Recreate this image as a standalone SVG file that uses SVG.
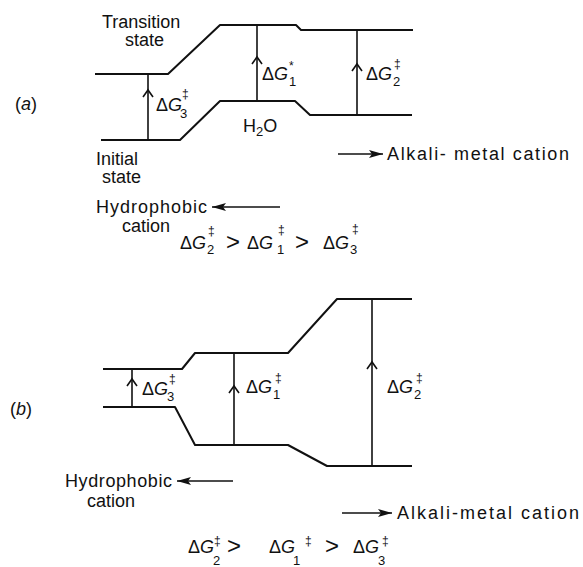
<svg xmlns="http://www.w3.org/2000/svg" xmlns:xlink="http://www.w3.org/1999/xlink" width="583" height="567" viewBox="0 0 583 567">
<style>
  text { font-family: "Liberation Sans", Arial, sans-serif; font-size: 18px; fill: #111; }
  .it { font-style: italic; }
  .sub { font-size: 13px; }
  .sup { font-size: 12px; }
  .gt { font-size: 24px; }
  .level { fill: none; stroke: #111; stroke-width: 2; stroke-linejoin: round; }
  .gap { fill: none; stroke: #111; stroke-width: 1.6; }
  .chev { fill: none; stroke: #111; stroke-width: 1.6; }
  .harrow { fill: none; stroke: #111; stroke-width: 1.6; }
</style>
<defs>
  <path id="chev" class="chev" d="M-5,7 L0,0 L5,7"/>
  <marker id="tri" viewBox="0 0 14 8" refX="14" refY="4" markerWidth="14" markerHeight="8" markerUnits="userSpaceOnUse" orient="auto">
    <path d="M0,0 L14,4 L0,8 L3,4 Z" fill="#111"/>
  </marker>
</defs>
<rect width="583" height="567" fill="#fff"/>

<g id="panel-a">
  <text x="15" y="110">(<tspan class="it">a</tspan>)</text>
  <g id="a-transition-state">
    <path class="level" d="M95,74 L168,74 L220,25 L296,25 L301,30 L413,30"/>
    <text x="102" y="28">Transition</text>
    <text x="125" y="46">state</text>
  </g>
  <g id="a-initial-state">
    <path class="level" d="M101,140 L180,140 L220,101 L295,101 L310,115 L412,115"/>
    <text x="96" y="165">Initial</text>
    <text x="102" y="183">state</text>
    <text x="243" y="132">H<tspan class="sub" y="136">2</tspan><tspan y="132">O</tspan></text>
  </g>
  <g id="a-labels">
    <text x="156" y="111">Δ<tspan class="it">G</tspan><tspan class="sub" x="180" y="118">3</tspan><tspan class="sup" x="182" y="98">‡</tspan></text>
    <text x="262" y="80">Δ<tspan class="it">G</tspan><tspan class="sub" x="289" y="86">1</tspan><tspan class="sup" x="289" y="70">*</tspan></text>
    <text x="366" y="80">Δ<tspan class="it">G</tspan><tspan class="sub" x="393" y="86">2</tspan><tspan class="sup" x="394" y="68">‡</tspan></text>
  </g>
  <g id="a-hydrophobic">
    <text x="96" y="213" textLength="111" lengthAdjust="spacing">Hydrophobic</text>
    <text x="122" y="232">cation</text>
  </g>
  <g id="a-alkali">
    <text x="387" y="160" textLength="182" lengthAdjust="spacing">Alkali- metal  cation</text>
  </g>
  <g id="a-inequality">
    <text x="180" y="249">Δ<tspan class="it">G</tspan><tspan class="sub" x="207" y="254">2</tspan><tspan class="sup" x="208" y="235">‡</tspan><tspan class="gt" x="226" y="250">&gt;</tspan><tspan x="247" y="249">Δ</tspan><tspan class="it">G</tspan><tspan class="sub" x="277" y="254">1</tspan><tspan class="sup" x="278" y="234">‡</tspan><tspan class="gt" x="295" y="250">&gt;</tspan><tspan x="323" y="249">Δ</tspan><tspan class="it">G</tspan><tspan class="sub" x="350" y="254">3</tspan><tspan class="sup" x="352" y="233">‡</tspan></text>
  </g>
</g>

<g id="panel-b">
  <text x="10" y="415">(<tspan class="it">b</tspan>)</text>
  <g id="b-transition-state">
    <path class="level" d="M103,369 L182,369 L195,353 L288,353 L337,299 L412,299"/>
  </g>
  <g id="b-initial-state">
    <path class="level" d="M103,407 L175,407 L195,445 L288,445 L327,466 L412,466"/>
  </g>
  <g id="b-labels">
    <text x="142" y="395">Δ<tspan class="it">G</tspan><tspan class="sub" x="167" y="401">3</tspan><tspan class="sup" x="169" y="383">‡</tspan></text>
    <text x="246" y="393">Δ<tspan class="it">G</tspan><tspan class="sub" x="273" y="399">1</tspan><tspan class="sup" x="275" y="382">‡</tspan></text>
    <text x="387" y="393">Δ<tspan class="it">G</tspan><tspan class="sub" x="414" y="399">2</tspan><tspan class="sup" x="416" y="382">‡</tspan></text>
  </g>
  <g id="b-hydrophobic">
    <text x="65" y="487" textLength="107" lengthAdjust="spacing">Hydrophobic</text>
    <text x="87" y="507">cation</text>
  </g>
  <g id="b-alkali">
    <text x="397" y="519" textLength="182" lengthAdjust="spacing">Alkali-metal cation</text>
  </g>
  <g id="b-inequality">
    <text x="188" y="553">Δ<tspan class="it">G</tspan><tspan class="sub" x="213" y="565">2</tspan><tspan class="sup" x="214" y="545">‡</tspan><tspan class="gt" x="227" y="554">&gt;</tspan><tspan x="269" y="553">Δ</tspan><tspan class="it">G</tspan><tspan class="sub" x="293" y="565">1</tspan><tspan class="sup" x="305" y="545">‡</tspan><tspan class="gt" x="325" y="554">&gt;</tspan><tspan x="353" y="553">Δ</tspan><tspan class="it">G</tspan><tspan class="sub" x="378" y="565">3</tspan><tspan class="sup" x="382" y="545">‡</tspan></text>
  </g>
</g>

<g id="connectors">
  <line class="gap" x1="148" y1="140" x2="148" y2="74"/>
  <use xlink:href="#chev" href="#chev" x="148" y="90"/>
  <line class="gap" x1="257" y1="101" x2="257" y2="25"/>
  <use xlink:href="#chev" href="#chev" x="257" y="57"/>
  <line class="gap" x1="357" y1="115" x2="357" y2="30"/>
  <use xlink:href="#chev" href="#chev" x="357" y="64"/>
  <line class="harrow" x1="280" y1="207" x2="212" y2="207" marker-end="url(#tri)"/>
  <line class="harrow" x1="338" y1="154" x2="383" y2="154" marker-end="url(#tri)"/>

  <line class="gap" x1="132" y1="407" x2="132" y2="369"/>
  <use xlink:href="#chev" href="#chev" x="132" y="379"/>
  <line class="gap" x1="234" y1="445" x2="234" y2="353"/>
  <use xlink:href="#chev" href="#chev" x="234" y="386"/>
  <line class="gap" x1="372" y1="466" x2="372" y2="299"/>
  <use xlink:href="#chev" href="#chev" x="372" y="362"/>
  <line class="harrow" x1="233" y1="481" x2="177" y2="481" marker-end="url(#tri)"/>
  <line class="harrow" x1="342" y1="513" x2="392" y2="513" marker-end="url(#tri)"/>
</g>
</svg>
